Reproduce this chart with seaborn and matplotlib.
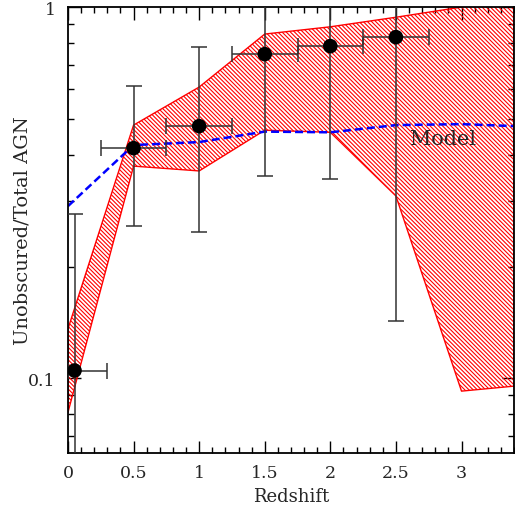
import numpy as np
import pandas as pd
import seaborn as sns
import matplotlib
matplotlib.use('Agg')
import matplotlib.pyplot as plt
from matplotlib.ticker import FixedLocator, FixedFormatter, NullFormatter

sns.set_theme(style="ticks")
plt.rcParams['font.family'] = ['DejaVu Serif']
plt.rcParams['hatch.linewidth'] = 0.8

# observed points (redshift bins)
z = [0.05, 0.5, 1.0, 1.5, 2.0, 2.5]
frac = [0.105, 0.417, 0.478, 0.747, 0.785, 0.83]
frac_lo = [0.03, 0.257, 0.248, 0.35, 0.344, 0.143]
frac_hi = [0.277, 0.612, 0.78, 1.2, 1.2, 1.2]
z_lo = [0.0, 0.25, 0.75, 1.25, 1.75, 2.25]
z_hi = [0.3, 0.75, 1.25, 1.75, 2.25, 2.75]

# hatched band
band_z = [0.0, 0.5, 1.0, 1.5, 2.0, 2.5, 3.0, 3.4]
band_lo = [0.081, 0.373, 0.362, 0.466, 0.46, 0.31, 0.0924, 0.0953]
band_hi = [0.136, 0.481, 0.609, 0.846, 0.885, 0.939, 1.0, 1.05]

# model curve
model_z = [0.0, 0.5, 1.0, 1.5, 2.0, 2.5, 3.0, 3.4]
model_f = [0.291, 0.425, 0.433, 0.462, 0.46, 0.481, 0.484, 0.478]

obs = pd.DataFrame({'z': z, 'frac': frac})
model = pd.DataFrame({'z': model_z, 'frac': model_f})

fig = plt.figure(figsize=(5.15, 5.06), dpi=100)
ax = fig.add_axes([0.132, 0.103, 0.866, 0.881])
ax.set_yscale('log')

ax.fill_between(band_z, band_lo, band_hi, facecolor='none', edgecolor='red',
                hatch='\\' * 8, linewidth=1.0, zorder=1)

sns.lineplot(data=model, x='z', y='frac', ax=ax, color='blue', lw=1.8,
             linestyle=(0, (3.2, 1.6)), zorder=2)

yerr = [np.array(frac) - np.array(frac_lo), np.array(frac_hi) - np.array(frac)]
xerr = [np.array(z) - np.array(z_lo), np.array(z_hi) - np.array(z)]
ax.errorbar(z, frac, xerr=xerr, yerr=yerr, fmt='none', ecolor='#333333',
            elinewidth=1.1, capsize=6, capthick=1.1, zorder=3)

sns.scatterplot(data=obs, x='z', y='frac', ax=ax, color='black', s=110,
                edgecolor='none', zorder=4)

ax.text(2.86, 0.443, 'Model', fontsize=15, ha='center', va='center')

ax.set_xlim(0, 3.4)
ax.set_ylim(0.063, 1)
ax.set_xticks(np.arange(0, 3.01, 0.5))
ax.set_xticklabels(['0', '0.5', '1', '1.5', '2', '2.5', '3'])
ax.set_xticks(np.arange(0, 3.41, 0.1), minor=True)
ax.yaxis.set_major_locator(FixedLocator([0.1, 1]))
ax.yaxis.set_major_formatter(FixedFormatter(['0.1', '1']))
ax.yaxis.set_minor_locator(FixedLocator([0.07, 0.08, 0.09] + [i / 10 for i in range(2, 10)]))
ax.yaxis.set_minor_formatter(NullFormatter())

ax.tick_params(which='both', direction='in', top=True, right=True,
               labelsize=12.5, color='black', width=1)
ax.tick_params(which='major', length=9, pad=8)
ax.tick_params(axis='y', which='major', pad=9)
ax.tick_params(which='minor', length=4.5)
for s in ax.spines.values():
    s.set_linewidth(1.3)
    s.set_color('black')

ax.set_xlabel('Redshift', fontsize=13, labelpad=4)
ax.set_ylabel('Unobscured/Total AGN', fontsize=14, labelpad=-2.5)

fig.savefig('out.png', dpi=100)
